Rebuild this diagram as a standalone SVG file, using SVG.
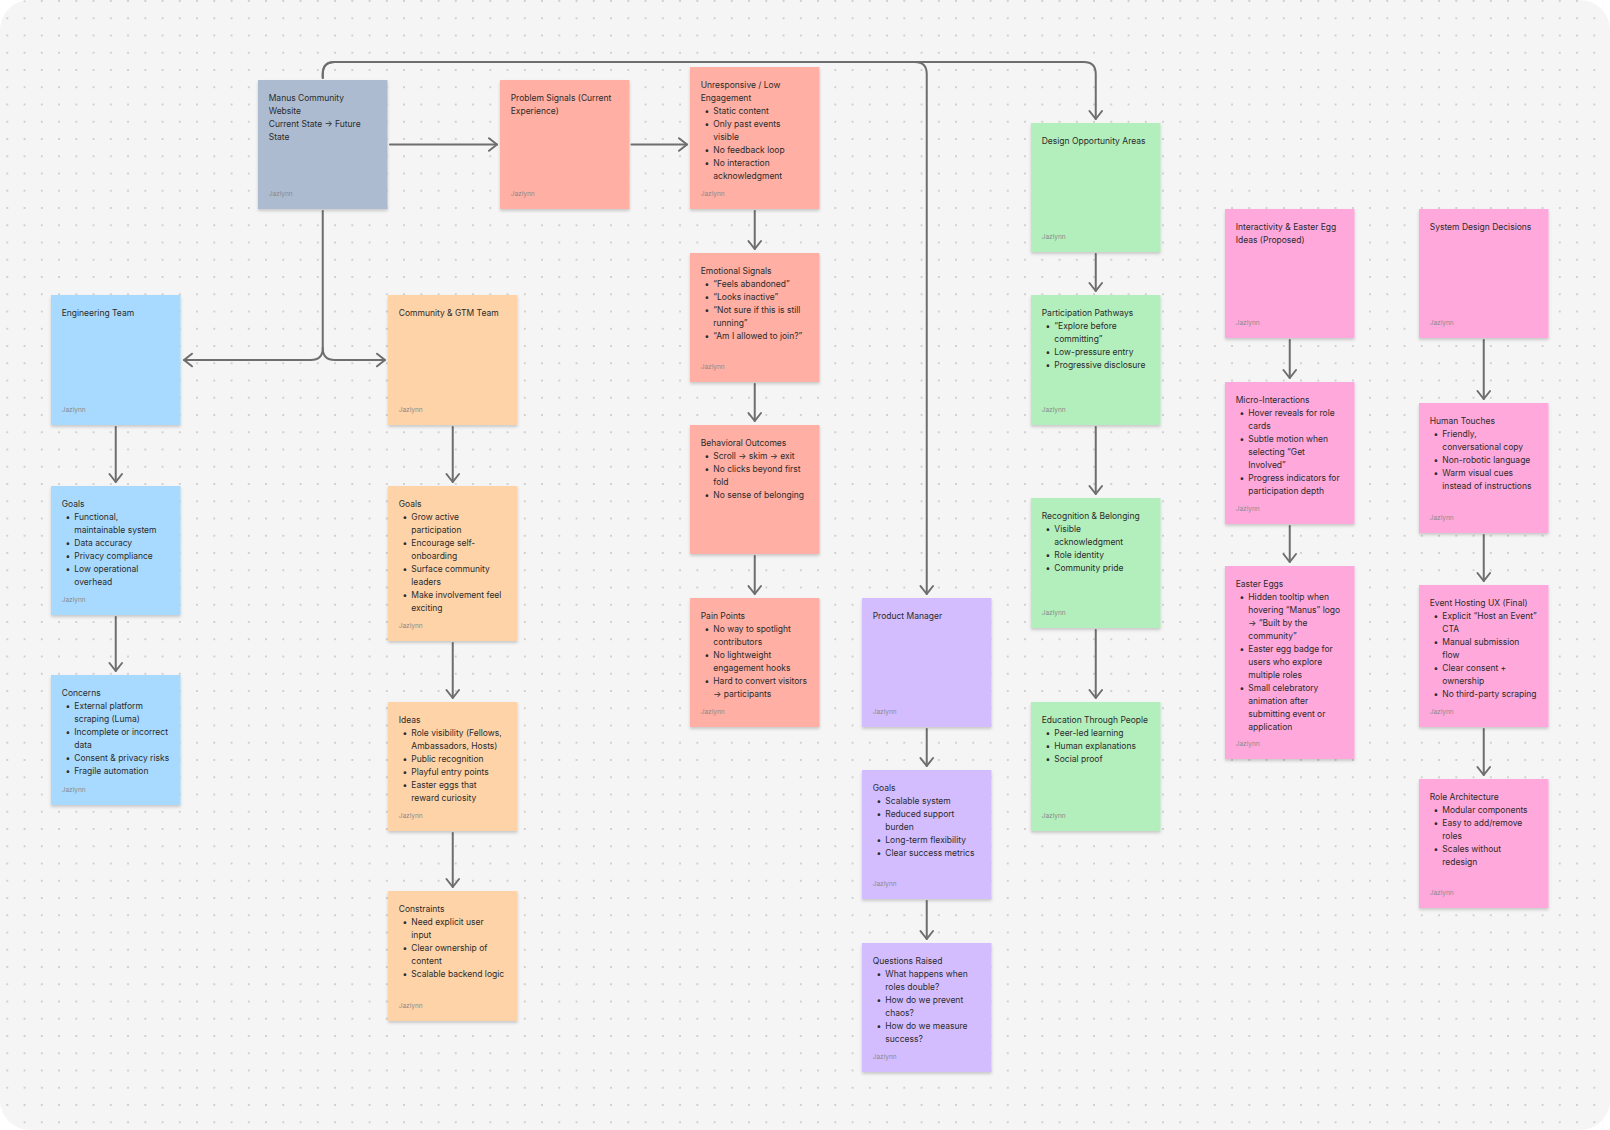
<svg xmlns="http://www.w3.org/2000/svg" width="1610" height="1130" viewBox="0 0 1610 1130">
<style>
.t{font-family:Inter,"Liberation Sans",sans-serif;font-size:8.5px;fill:#2b2b2b}
.a{font-family:Inter,"Liberation Sans",sans-serif;font-size:6.5px;fill:#8a8a8a}
.c{fill:none;stroke:#6e6e6e;stroke-width:2;stroke-linecap:round;stroke-linejoin:round}
.s{filter:url(#sh)}
.gray{fill:#adbbd0}.red{fill:#ffafa3}.blue{fill:#a8daff}.orange{fill:#ffd3a8}.green{fill:#b3efbd}.violet{fill:#d3bdff}.pink{fill:#ffa8db}
</style>
<defs>
<pattern id="dots" patternUnits="userSpaceOnUse" x="-1.325" y="-7.625" width="17.25" height="17.25"><circle cx="8.625" cy="8.625" r="1" fill="#c6c6c6"/></pattern>
<filter id="sh" x="-10%" y="-10%" width="120%" height="125%"><feDropShadow dx="0" dy="2" stdDeviation="1.6" flood-color="#000" flood-opacity="0.18"/></filter>
<marker id="ah" markerUnits="userSpaceOnUse" markerWidth="20" markerHeight="20" viewBox="-10 -10 20 20" refX="0" refY="0" orient="auto"><path d="M-8,-6.3 L0,0 L-8,6.3" fill="none" stroke="#6e6e6e" stroke-width="2" stroke-linecap="round" stroke-linejoin="round"/></marker>
</defs>
<rect width="1610" height="1130" fill="#ffffff"/>
<rect width="1610" height="1130" rx="30" fill="#f5f5f5"/>
<rect width="1610" height="1130" rx="30" fill="url(#dots)"/>

<g id="connectors">
<path class="c" marker-end="url(#ah)" d="M322.75,78 V74 Q322.75,62 334.75,62 H914.75 Q926.75,62 926.75,74 V594"/>
<path class="c" marker-end="url(#ah)" d="M322.75,78 V74 Q322.75,62 334.75,62 H1083.75 Q1095.75,62 1095.75,74 V119"/>
<path class="c" marker-end="url(#ah)" d="M390,144.5 H497"/>
<path class="c" marker-end="url(#ah)" d="M631.5,144.5 H687"/>
<path class="c" marker-end="url(#ah)" d="M322.75,211 V348 Q322.75,360 310.75,360 H184"/>
<path class="c" marker-end="url(#ah)" d="M322.75,348 Q322.75,360 334.75,360 H385"/>
<path class="c" marker-end="url(#ah)" d="M115.75,427 V482"/>
<path class="c" marker-end="url(#ah)" d="M115.75,617 V671"/>
<path class="c" marker-end="url(#ah)" d="M452.75,427 V482"/>
<path class="c" marker-end="url(#ah)" d="M452.75,643 V698"/>
<path class="c" marker-end="url(#ah)" d="M452.75,833 V887"/>
<path class="c" marker-end="url(#ah)" d="M754.75,211 V249"/>
<path class="c" marker-end="url(#ah)" d="M754.75,384 V421"/>
<path class="c" marker-end="url(#ah)" d="M754.75,556 V594"/>
<path class="c" marker-end="url(#ah)" d="M926.75,729 V766"/>
<path class="c" marker-end="url(#ah)" d="M926.75,901 V939"/>
<path class="c" marker-end="url(#ah)" d="M1095.75,254 V291"/>
<path class="c" marker-end="url(#ah)" d="M1095.75,427 V494"/>
<path class="c" marker-end="url(#ah)" d="M1095.75,630 V698"/>
<path class="c" marker-end="url(#ah)" d="M1289.75,340 V378"/>
<path class="c" marker-end="url(#ah)" d="M1289.75,526 V562"/>
<path class="c" marker-end="url(#ah)" d="M1483.75,340 V399"/>
<path class="c" marker-end="url(#ah)" d="M1483.75,535 V581"/>
<path class="c" marker-end="url(#ah)" d="M1483.75,729 V775"/>
</g>

<g id="n-manus"><rect class="s gray" x="258" y="80" width="129.5" height="129"/>
<text class="t"><tspan x="268.7" y="100.5">Manus Community</tspan><tspan x="268.7" y="113.5">Website</tspan><tspan x="268.7" y="126.5">Current State → Future</tspan><tspan x="268.7" y="139.5">State</tspan></text>
<text class="a" x="268.7" y="196">Jazlynn</text></g>

<g id="n-problem"><rect class="s red" x="500" y="80" width="129.5" height="129"/>
<text class="t"><tspan x="510.7" y="100.5">Problem Signals (Current</tspan><tspan x="510.7" y="113.5">Experience)</tspan></text>
<text class="a" x="510.7" y="196">Jazlynn</text></g>

<g id="n-unresponsive"><rect class="s red" x="690" y="67" width="129.5" height="142"/>
<text class="t"><tspan x="700.7" y="87.5">Unresponsive / Low</tspan><tspan x="700.7" y="100.5">Engagement</tspan>
<tspan x="704.4" y="113.5">•</tspan><tspan x="713.3" y="113.5">Static content</tspan>
<tspan x="704.4" y="126.5">•</tspan><tspan x="713.3" y="126.5">Only past events</tspan><tspan x="713.3" y="139.5">visible</tspan>
<tspan x="704.4" y="152.5">•</tspan><tspan x="713.3" y="152.5">No feedback loop</tspan>
<tspan x="704.4" y="165.5">•</tspan><tspan x="713.3" y="165.5">No interaction</tspan><tspan x="713.3" y="178.5">acknowledgment</tspan></text>
<text class="a" x="700.7" y="196">Jazlynn</text></g>

<g id="n-emotional"><rect class="s red" x="690" y="253" width="129.5" height="129"/>
<text class="t"><tspan x="700.7" y="273.5">Emotional Signals</tspan>
<tspan x="704.4" y="286.5">•</tspan><tspan x="713.3" y="286.5">“Feels abandoned”</tspan>
<tspan x="704.4" y="299.5">•</tspan><tspan x="713.3" y="299.5">“Looks inactive”</tspan>
<tspan x="704.4" y="312.5">•</tspan><tspan x="713.3" y="312.5">“Not sure if this is still</tspan><tspan x="713.3" y="325.5">running”</tspan>
<tspan x="704.4" y="338.5">•</tspan><tspan x="713.3" y="338.5">“Am I allowed to join?”</tspan></text>
<text class="a" x="700.7" y="369">Jazlynn</text></g>

<g id="n-behavioral"><rect class="s red" x="690" y="425" width="129.5" height="129"/>
<text class="t"><tspan x="700.7" y="445.5">Behavioral Outcomes</tspan>
<tspan x="704.4" y="458.5">•</tspan><tspan x="713.3" y="458.5">Scroll → skim → exit</tspan>
<tspan x="704.4" y="471.5">•</tspan><tspan x="713.3" y="471.5">No clicks beyond first</tspan><tspan x="713.3" y="484.5">fold</tspan>
<tspan x="704.4" y="497.5">•</tspan><tspan x="713.3" y="497.5">No sense of belonging</tspan></text></g>

<g id="n-pain"><rect class="s red" x="690" y="598" width="129.5" height="129"/>
<text class="t"><tspan x="700.7" y="618.5">Pain Points</tspan>
<tspan x="704.4" y="631.5">•</tspan><tspan x="713.3" y="631.5">No way to spotlight</tspan><tspan x="713.3" y="644.5">contributors</tspan>
<tspan x="704.4" y="657.5">•</tspan><tspan x="713.3" y="657.5">No lightweight</tspan><tspan x="713.3" y="670.5">engagement hooks</tspan>
<tspan x="704.4" y="683.5">•</tspan><tspan x="713.3" y="683.5">Hard to convert visitors</tspan><tspan x="713.3" y="696.5">→ participants</tspan></text>
<text class="a" x="700.7" y="714">Jazlynn</text></g>

<g id="n-engineering"><rect class="s blue" x="51" y="295" width="129.5" height="130"/>
<text class="t" x="61.7" y="315.5">Engineering Team</text>
<text class="a" x="61.7" y="412">Jazlynn</text></g>

<g id="n-eng-goals"><rect class="s blue" x="51" y="486" width="129.5" height="129"/>
<text class="t"><tspan x="61.7" y="506.5">Goals</tspan>
<tspan x="65.4" y="519.5">•</tspan><tspan x="74.3" y="519.5">Functional,</tspan><tspan x="74.3" y="532.5">maintainable system</tspan>
<tspan x="65.4" y="545.5">•</tspan><tspan x="74.3" y="545.5">Data accuracy</tspan>
<tspan x="65.4" y="558.5">•</tspan><tspan x="74.3" y="558.5">Privacy compliance</tspan>
<tspan x="65.4" y="571.5">•</tspan><tspan x="74.3" y="571.5">Low operational</tspan><tspan x="74.3" y="584.5">overhead</tspan></text>
<text class="a" x="61.7" y="602">Jazlynn</text></g>

<g id="n-concerns"><rect class="s blue" x="51" y="675" width="129.5" height="130"/>
<text class="t"><tspan x="61.7" y="695.5">Concerns</tspan>
<tspan x="65.4" y="708.5">•</tspan><tspan x="74.3" y="708.5">External platform</tspan><tspan x="74.3" y="721.5">scraping (Luma)</tspan>
<tspan x="65.4" y="734.5">•</tspan><tspan x="74.3" y="734.5">Incomplete or incorrect</tspan><tspan x="74.3" y="747.5">data</tspan>
<tspan x="65.4" y="760.5">•</tspan><tspan x="74.3" y="760.5">Consent &amp; privacy risks</tspan>
<tspan x="65.4" y="773.5">•</tspan><tspan x="74.3" y="773.5">Fragile automation</tspan></text>
<text class="a" x="61.7" y="792">Jazlynn</text></g>

<g id="n-community"><rect class="s orange" x="388" y="295" width="129.5" height="130"/>
<text class="t" x="398.7" y="315.5">Community &amp; GTM Team</text>
<text class="a" x="398.7" y="412">Jazlynn</text></g>

<g id="n-comm-goals"><rect class="s orange" x="388" y="486" width="129.5" height="155"/>
<text class="t"><tspan x="398.7" y="506.5">Goals</tspan>
<tspan x="402.4" y="519.5">•</tspan><tspan x="411.3" y="519.5">Grow active</tspan><tspan x="411.3" y="532.5">participation</tspan>
<tspan x="402.4" y="545.5">•</tspan><tspan x="411.3" y="545.5">Encourage self-</tspan><tspan x="411.3" y="558.5">onboarding</tspan>
<tspan x="402.4" y="571.5">•</tspan><tspan x="411.3" y="571.5">Surface community</tspan><tspan x="411.3" y="584.5">leaders</tspan>
<tspan x="402.4" y="597.5">•</tspan><tspan x="411.3" y="597.5">Make involvement feel</tspan><tspan x="411.3" y="610.5">exciting</tspan></text>
<text class="a" x="398.7" y="628">Jazlynn</text></g>

<g id="n-ideas"><rect class="s orange" x="388" y="702" width="129.5" height="129"/>
<text class="t"><tspan x="398.7" y="722.5">Ideas</tspan>
<tspan x="402.4" y="735.5">•</tspan><tspan x="411.3" y="735.5">Role visibility (Fellows,</tspan><tspan x="411.3" y="748.5">Ambassadors, Hosts)</tspan>
<tspan x="402.4" y="761.5">•</tspan><tspan x="411.3" y="761.5">Public recognition</tspan>
<tspan x="402.4" y="774.5">•</tspan><tspan x="411.3" y="774.5">Playful entry points</tspan>
<tspan x="402.4" y="787.5">•</tspan><tspan x="411.3" y="787.5">Easter eggs that</tspan><tspan x="411.3" y="800.5">reward curiosity</tspan></text>
<text class="a" x="398.7" y="818">Jazlynn</text></g>

<g id="n-constraints"><rect class="s orange" x="388" y="891" width="129.5" height="130"/>
<text class="t"><tspan x="398.7" y="911.5">Constraints</tspan>
<tspan x="402.4" y="924.5">•</tspan><tspan x="411.3" y="924.5">Need explicit user</tspan><tspan x="411.3" y="937.5">input</tspan>
<tspan x="402.4" y="950.5">•</tspan><tspan x="411.3" y="950.5">Clear ownership of</tspan><tspan x="411.3" y="963.5">content</tspan>
<tspan x="402.4" y="976.5">•</tspan><tspan x="411.3" y="976.5">Scalable backend logic</tspan></text>
<text class="a" x="398.7" y="1008">Jazlynn</text></g>

<g id="n-pm"><rect class="s violet" x="862" y="598" width="129.5" height="129"/>
<text class="t" x="872.7" y="618.5">Product Manager</text>
<text class="a" x="872.7" y="714">Jazlynn</text></g>

<g id="n-pm-goals"><rect class="s violet" x="862" y="770" width="129.5" height="129"/>
<text class="t"><tspan x="872.7" y="790.5">Goals</tspan>
<tspan x="876.4" y="803.5">•</tspan><tspan x="885.3" y="803.5">Scalable system</tspan>
<tspan x="876.4" y="816.5">•</tspan><tspan x="885.3" y="816.5">Reduced support</tspan><tspan x="885.3" y="829.5">burden</tspan>
<tspan x="876.4" y="842.5">•</tspan><tspan x="885.3" y="842.5">Long-term flexibility</tspan>
<tspan x="876.4" y="855.5">•</tspan><tspan x="885.3" y="855.5">Clear success metrics</tspan></text>
<text class="a" x="872.7" y="886">Jazlynn</text></g>

<g id="n-questions"><rect class="s violet" x="862" y="943" width="129.5" height="129"/>
<text class="t"><tspan x="872.7" y="963.5">Questions Raised</tspan>
<tspan x="876.4" y="976.5">•</tspan><tspan x="885.3" y="976.5">What happens when</tspan><tspan x="885.3" y="989.5">roles double?</tspan>
<tspan x="876.4" y="1002.5">•</tspan><tspan x="885.3" y="1002.5">How do we prevent</tspan><tspan x="885.3" y="1015.5">chaos?</tspan>
<tspan x="876.4" y="1028.5">•</tspan><tspan x="885.3" y="1028.5">How do we measure</tspan><tspan x="885.3" y="1041.5">success?</tspan></text>
<text class="a" x="872.7" y="1059">Jazlynn</text></g>

<g id="n-design-opp"><rect class="s green" x="1031" y="123" width="129.5" height="129"/>
<text class="t" x="1041.7" y="143.5">Design Opportunity Areas</text>
<text class="a" x="1041.7" y="239">Jazlynn</text></g>

<g id="n-participation"><rect class="s green" x="1031" y="295" width="129.5" height="130"/>
<text class="t"><tspan x="1041.7" y="315.5">Participation Pathways</tspan>
<tspan x="1045.4" y="328.5">•</tspan><tspan x="1054.3" y="328.5">“Explore before</tspan><tspan x="1054.3" y="341.5">committing”</tspan>
<tspan x="1045.4" y="354.5">•</tspan><tspan x="1054.3" y="354.5">Low-pressure entry</tspan>
<tspan x="1045.4" y="367.5">•</tspan><tspan x="1054.3" y="367.5">Progressive disclosure</tspan></text>
<text class="a" x="1041.7" y="412">Jazlynn</text></g>

<g id="n-recognition"><rect class="s green" x="1031" y="498" width="129.5" height="130"/>
<text class="t"><tspan x="1041.7" y="518.5">Recognition &amp; Belonging</tspan>
<tspan x="1045.4" y="531.5">•</tspan><tspan x="1054.3" y="531.5">Visible</tspan><tspan x="1054.3" y="544.5">acknowledgment</tspan>
<tspan x="1045.4" y="557.5">•</tspan><tspan x="1054.3" y="557.5">Role identity</tspan>
<tspan x="1045.4" y="570.5">•</tspan><tspan x="1054.3" y="570.5">Community pride</tspan></text>
<text class="a" x="1041.7" y="615">Jazlynn</text></g>

<g id="n-education"><rect class="s green" x="1031" y="702" width="129.5" height="129"/>
<text class="t"><tspan x="1041.7" y="722.5">Education Through People</tspan>
<tspan x="1045.4" y="735.5">•</tspan><tspan x="1054.3" y="735.5">Peer-led learning</tspan>
<tspan x="1045.4" y="748.5">•</tspan><tspan x="1054.3" y="748.5">Human explanations</tspan>
<tspan x="1045.4" y="761.5">•</tspan><tspan x="1054.3" y="761.5">Social proof</tspan></text>
<text class="a" x="1041.7" y="818">Jazlynn</text></g>

<g id="n-interactivity"><rect class="s pink" x="1225" y="209" width="129.5" height="129"/>
<text class="t"><tspan x="1235.7" y="229.5">Interactivity &amp; Easter Egg</tspan><tspan x="1235.7" y="242.5">Ideas (Proposed)</tspan></text>
<text class="a" x="1235.7" y="325">Jazlynn</text></g>

<g id="n-micro"><rect class="s pink" x="1225" y="382" width="129.5" height="142"/>
<text class="t"><tspan x="1235.7" y="402.5">Micro-Interactions</tspan>
<tspan x="1239.4" y="415.5">•</tspan><tspan x="1248.3" y="415.5">Hover reveals for role</tspan><tspan x="1248.3" y="428.5">cards</tspan>
<tspan x="1239.4" y="441.5">•</tspan><tspan x="1248.3" y="441.5">Subtle motion when</tspan><tspan x="1248.3" y="454.5">selecting “Get</tspan><tspan x="1248.3" y="467.5">Involved”</tspan>
<tspan x="1239.4" y="480.5">•</tspan><tspan x="1248.3" y="480.5">Progress indicators for</tspan><tspan x="1248.3" y="493.5">participation depth</tspan></text>
<text class="a" x="1235.7" y="511">Jazlynn</text></g>

<g id="n-easter"><rect class="s pink" x="1225" y="566" width="129.5" height="193"/>
<text class="t"><tspan x="1235.7" y="586.5">Easter Eggs</tspan>
<tspan x="1239.4" y="599.5">•</tspan><tspan x="1248.3" y="599.5">Hidden tooltip when</tspan><tspan x="1248.3" y="612.5">hovering “Manus” logo</tspan><tspan x="1248.3" y="625.5">→ “Built by the</tspan><tspan x="1248.3" y="638.5">community”</tspan>
<tspan x="1239.4" y="651.5">•</tspan><tspan x="1248.3" y="651.5">Easter egg badge for</tspan><tspan x="1248.3" y="664.5">users who explore</tspan><tspan x="1248.3" y="677.5">multiple roles</tspan>
<tspan x="1239.4" y="690.5">•</tspan><tspan x="1248.3" y="690.5">Small celebratory</tspan><tspan x="1248.3" y="703.5">animation after</tspan><tspan x="1248.3" y="716.5">submitting event or</tspan><tspan x="1248.3" y="729.5">application</tspan></text>
<text class="a" x="1235.7" y="746">Jazlynn</text></g>

<g id="n-system"><rect class="s pink" x="1419" y="209" width="129.5" height="129"/>
<text class="t" x="1429.7" y="229.5">System Design Decisions</text>
<text class="a" x="1429.7" y="325">Jazlynn</text></g>

<g id="n-human"><rect class="s pink" x="1419" y="403" width="129.5" height="130"/>
<text class="t"><tspan x="1429.7" y="423.5">Human Touches</tspan>
<tspan x="1433.4" y="436.5">•</tspan><tspan x="1442.3" y="436.5">Friendly,</tspan><tspan x="1442.3" y="449.5">conversational copy</tspan>
<tspan x="1433.4" y="462.5">•</tspan><tspan x="1442.3" y="462.5">Non-robotic language</tspan>
<tspan x="1433.4" y="475.5">•</tspan><tspan x="1442.3" y="475.5">Warm visual cues</tspan><tspan x="1442.3" y="488.5">instead of instructions</tspan></text>
<text class="a" x="1429.7" y="520">Jazlynn</text></g>

<g id="n-event"><rect class="s pink" x="1419" y="585" width="129.5" height="142"/>
<text class="t"><tspan x="1429.7" y="605.5">Event Hosting UX (Final)</tspan>
<tspan x="1433.4" y="618.5">•</tspan><tspan x="1442.3" y="618.5">Explicit “Host an Event”</tspan><tspan x="1442.3" y="631.5">CTA</tspan>
<tspan x="1433.4" y="644.5">•</tspan><tspan x="1442.3" y="644.5">Manual submission</tspan><tspan x="1442.3" y="657.5">flow</tspan>
<tspan x="1433.4" y="670.5">•</tspan><tspan x="1442.3" y="670.5">Clear consent +</tspan><tspan x="1442.3" y="683.5">ownership</tspan>
<tspan x="1433.4" y="696.5">•</tspan><tspan x="1442.3" y="696.5">No third-party scraping</tspan></text>
<text class="a" x="1429.7" y="714">Jazlynn</text></g>

<g id="n-role"><rect class="s pink" x="1419" y="779" width="129.5" height="129"/>
<text class="t"><tspan x="1429.7" y="799.5">Role Architecture</tspan>
<tspan x="1433.4" y="812.5">•</tspan><tspan x="1442.3" y="812.5">Modular components</tspan>
<tspan x="1433.4" y="825.5">•</tspan><tspan x="1442.3" y="825.5">Easy to add/remove</tspan><tspan x="1442.3" y="838.5">roles</tspan>
<tspan x="1433.4" y="851.5">•</tspan><tspan x="1442.3" y="851.5">Scales without</tspan><tspan x="1442.3" y="864.5">redesign</tspan></text>
<text class="a" x="1429.7" y="895">Jazlynn</text></g>
</svg>
